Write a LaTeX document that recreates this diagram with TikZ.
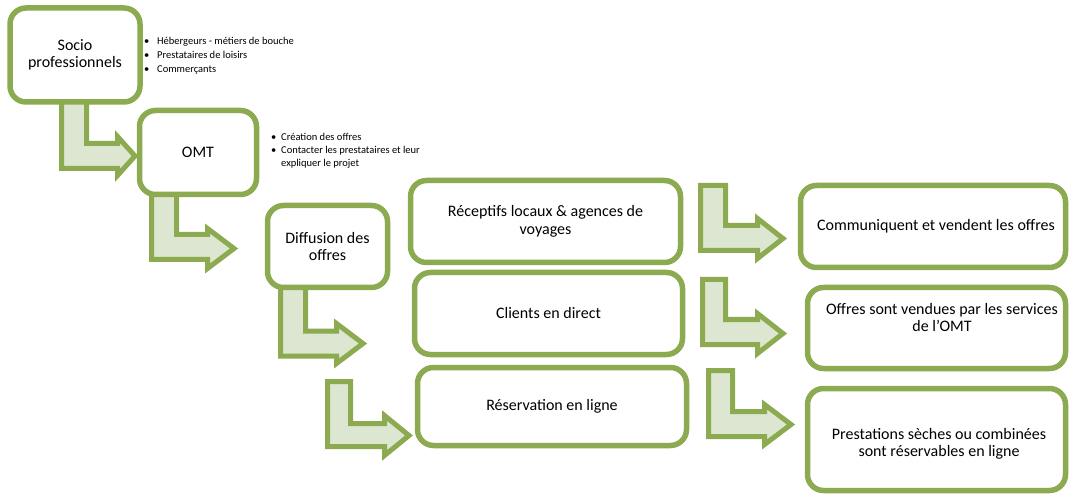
\documentclass[tikz,border=0pt]{standalone}
\usepackage{fontspec}
\setmainfont{Carlito}
\definecolor{og}{HTML}{8CAA4F}
\definecolor{lg}{HTML}{DDE6D0}
\newcommand{\bentarrow}[9]{%
  % #1 xl, #2 xr, #3 yt, #4 yh1, #5 yh2, #6 head top, #7 head bottom, #8 base, #9 tip
  \draw[barrow] (#1,#3) -- (#2,#3) -- (#2,#4) -- (#8,#4) -- (#8,#6) -- (#9,{(#6+#7)/2}) -- (#8,#7) -- (#8,#5) -- (#1,#5) -- cycle;}
\begin{document}
\begin{tikzpicture}[x=1pt,y=-1pt,
  box/.style={draw=og, line width=5.5pt, rounded corners=16pt, fill=white, align=center, font=\fontsize{16}{17.5}\selectfont, inner sep=0pt},
  barrow/.style={draw=og, fill=lg, line width=5pt, line join=miter},
  blist/.style={anchor=base west, align=left, inner sep=0pt},
  txt/.style={align=center, font=\fontsize{16}{17.5}\selectfont, inner sep=0pt}]
\useasboundingbox (0,0) rectangle (1069,497);
% bent arrows
\bentarrow{61.5}{86.5}{100}{143.5}{168.5}{136.5}{175.5}{117.5}{135}
\bentarrow{151.5}{176.5}{190}{234.5}{259.5}{228.5}{268.5}{207.5}{234}
\bentarrow{280.5}{305.5}{285}{331}{356}{323.5}{363.5}{336.5}{363}
\bentarrow{327.5}{350.5}{381.5}{423.5}{446.5}{415.5}{455.5}{384.5}{409}
\bentarrow{700.5}{725.5}{185.5}{225.5}{250.5}{218.5}{258.5}{757.5}{783}
\bentarrow{702.5}{725.5}{279.5}{319.5}{344.5}{313.5}{353.5}{757.5}{783}
\bentarrow{708.5}{732.5}{370.5}{411.5}{436.5}{404.5}{444.5}{764.5}{791}
% boxes
\node[box, minimum width=130pt, minimum height=94pt] (socio) at (75,55) {Socio\\professionnels};
\node[box, minimum width=117pt, minimum height=84pt] (omt) at (198,152.5) {OMT};
\node[box, minimum width=120pt, minimum height=82pt] (diff) at (327.5,246.5) {Diffusion des\\offres};
\node[box, minimum width=270pt, minimum height=82pt] (recep) at (545.5,221.5) {Réceptifs locaux \& agences de\\voyages};
\node[box, minimum width=268pt, minimum height=82pt] (clients) at (548.5,313.5) {Clients en direct};
\node[box, minimum width=269pt, minimum height=78pt] (resa) at (552,406.5) {Réservation en ligne};
\node[box, minimum width=265pt, minimum height=82pt] (comm) at (933,226.5) {\hspace*{6pt}Communiquent et vendent les offres};
\node[box, minimum width=258pt, minimum height=81pt] (vend) at (936.5,328) {};
\node[txt] (vendt) at (942,317.5) {Offres sont vendues par les services\\de l'OMT};
\node[box, minimum width=258pt, minimum height=102pt] (prest) at (936.5,439.5) {};
\node[txt] (prestt) at (939,444) {Prestations sèches ou combinées\\sont réservables en ligne};
% bullet lists
\node[blist, font=\fontsize{10.5}{14}\selectfont] (l1) at (144,73) {\makebox[13pt][l]{\textbullet}Hébergeurs - métiers de bouche\\\makebox[13pt][l]{\textbullet}Prestataires de loisirs\\\makebox[13pt][l]{\textbullet}Commerçants};
\node[blist, font=\fontsize{10.5}{13}\selectfont] (l2) at (271,167) {\makebox[10pt][l]{\textbullet}Création des offres\\\makebox[10pt][l]{\textbullet}Contacter les prestataires et leur\\\hspace*{10pt}expliquer le projet};
\end{tikzpicture}
\end{document}
